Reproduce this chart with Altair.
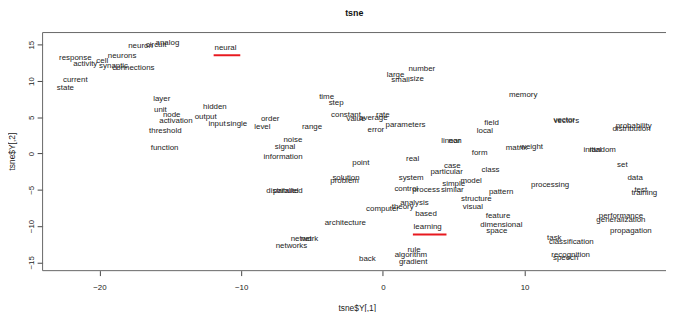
import altair as alt
import pandas as pd

words = ["neuron", "circuit", "analog", "neural", "response", "activity", "cell", "neurons",
         "synaptic", "connections", "current", "state", "layer", "unit", "node", "activation",
         "threshold", "function", "hidden", "output", "input", "single",
         "level", "order", "range", "noise", "signal", "time", "step", "constant", "value",
         "average", "rate", "error", "parameters", "large", "small", "size", "number",
         "linear", "non", "memory", "field", "local", "vector", "vectors", "probability",
         "distribution", "matrix", "weight", "initial", "random", "form",
         "point", "real", "case", "particular", "class", "solution", "problem", "system",
         "simple", "model", "control", "process", "similar", "pattern", "processing",
         "set", "data", "test", "training", "structure", "visual", "feature", "dimensional",
         "space", "performance", "generalization", "propagation", "task", "classification",
         "recognition", "speech",
         "information", "distributed", "parallel", "computer", "theory", "analysis", "based",
         "learning", "architecture", "network", "net", "networks", "back", "rule",
         "algorithm", "gradient"]

x_vals = [-17.1, -16.0, -15.2, -11.1, -21.7, -21.0, -19.8, -18.4,
          -19.0, -17.6, -21.7, -22.4, -15.6, -15.7, -14.9, -14.6,
          -15.35, -15.4, -11.85, -12.5, -11.7, -10.3,
          -8.5, -7.95, -5.0, -6.35, -6.9, -3.97, -3.3, -2.6, -1.9,
          -0.67, 0.0, -0.49, 1.6, 0.9, 1.25, 2.4, 2.75,
          4.8, 5.1, 9.9, 7.67, 7.2, 12.8, 12.95, 17.7,
          17.55, 9.43, 10.5, 14.8, 15.5, 6.83,
          -1.55, 2.1, 4.9, 4.5, 7.6, -2.6, -2.7, 2.0,
          5.0, 6.23, 1.65, 3.05, 4.9, 8.35, 11.8,
          16.9, 17.8, 18.2, 18.45, 6.6, 6.35, 8.13, 8.36,
          8.04, 16.8, 16.8, 17.5, 12.1, 13.3,
          13.25, 12.9,
          -7.04, -6.94, -6.85, -0.02, 1.4, 2.23, 3.05,
          3.16, -2.65, -5.53, -5.4, -6.45, -1.09, 2.2,
          1.98, 2.14]

y_vals = [14.8, 15.0, 15.3, 14.6, 13.2, 12.4, 12.8, 13.5,
          12.05, 11.8, 10.2, 9.1, 7.45, 6.0, 5.3, 4.5,
          3.1, 0.8, 6.45, 5.0, 4.1, 4.0,
          3.7, 4.8, 3.7, 1.8, 0.9, 7.8, 7.0, 5.3, 4.8,
          4.85, 5.3, 3.3, 3.95, 10.8, 10.2, 10.3, 11.6,
          1.7, 1.7, 8.05, 4.27, 3.05, 4.6, 4.5, 3.85,
          3.4, 0.76, 0.9, 0.55, 0.45, 0.08,
          -1.28, -0.8, -1.7, -2.6, -2.3, -3.4, -3.8, -3.4,
          -4.15, -3.8, -4.9, -5.0, -5.0, -5.3, -4.4,
          -1.6, -3.4, -5.0, -5.4, -6.3, -7.4, -8.65, -9.9,
          -10.7, -8.65, -9.2, -10.7, -11.6, -12.2,
          -13.97, -14.46,
          -0.55, -5.15, -5.2, -7.65, -7.4, -6.8, -8.4,
          -10.1, -9.65, -11.73, -11.73, -12.7, -14.6, -13.3,
          -14.0, -14.97]

mark_x = [-11.94, 2.12]
mark_x2 = [-10.06, 4.49]
mark_y = [13.55, -11.15]

x_ticks = [-20, -10, 0, 10, 20]
y_ticks = [-15, -10, -5, 0, 5, 10, 15]

df = pd.DataFrame({"word": words, "x": x_vals, "y": y_vals})
marks = pd.DataFrame({"x": mark_x, "x2": mark_x2, "y": mark_y})
one = pd.DataFrame({"a": [0]})

W, H = 631, 241
FONT = "Liberation Sans"
xs = alt.Scale(domain=[-24.01, 19.98], nice=False, zero=False)
ys = alt.Scale(domain=[-16.15, 16.68], nice=False, zero=False)

text = alt.Chart(df).mark_text(
    font=FONT, fontSize=8, color="#222", align="center", baseline="middle"
).encode(
    x=alt.X("x:Q", scale=xs, axis=alt.Axis(
        values=x_ticks, title="tsne$Y[,1]", grid=False, domain=False,
        tickSize=5, tickColor="#444", labelPadding=12, labelBaseline="middle",
        labelFont=FONT, labelFontSize=8, labelColor="#222",
        titleFont=FONT, titleFontSize=8.5, titleFontWeight="normal", titleColor="#222",
        titleX=318, titleY=37.5, titleAlign="center", titleBaseline="middle")),
    y=alt.Y("y:Q", scale=ys, axis=alt.Axis(
        values=y_ticks, title="tsne$Y[,2]", grid=False, domain=False,
        tickSize=5.5, tickColor="#444", labelAngle=270, labelAlign="center",
        labelBaseline="middle", labelPadding=5.8,
        labelFont=FONT, labelFontSize=8, labelColor="#222",
        titleFont=FONT, titleFontSize=8.5, titleFontWeight="normal", titleColor="#222",
        titleAngle=270, titleX=-31.5, titleY=120, titleAlign="center", titleBaseline="middle")),
    text="word:N",
)

frame_top = alt.Chart(one).mark_rule(color="#666", strokeWidth=1).encode(
    x=alt.value(0), x2=alt.value(W), y=alt.value(0))
frame_bottom = alt.Chart(one).mark_rule(color="#666", strokeWidth=1).encode(
    x=alt.value(0), x2=alt.value(W), y=alt.value(H))
frame_left = alt.Chart(one).mark_rule(color="#666", strokeWidth=1).encode(
    x=alt.value(0), y=alt.value(0), y2=alt.value(H))

red = alt.Chart(marks).mark_rule(color="#e8191f", strokeWidth=2).encode(
    x=alt.X("x:Q", scale=xs), x2="x2:Q", y=alt.Y("y:Q", scale=ys))

chart = alt.layer(text, red, frame_top, frame_bottom, frame_left).properties(
    width=W, height=H,
    title=alt.Title("tsne", font=FONT, fontSize=9, fontWeight="bold", color="#111",
                    anchor="middle", offset=14),
    autosize=alt.AutoSizeParams(type="none"),
    padding={"left": 35, "top": 23, "right": 0, "bottom": 40},
).configure_view(stroke=None)

chart.save("out.html", embed_options={"renderer": "svg", "actions": False})
